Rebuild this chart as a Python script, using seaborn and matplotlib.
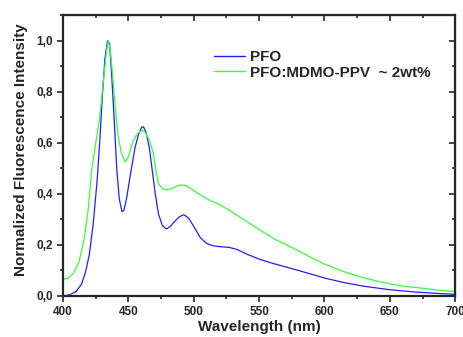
import pandas as pd
import matplotlib
matplotlib.use("Agg")
import matplotlib.pyplot as plt
import seaborn as sns
from matplotlib.ticker import MultipleLocator, FuncFormatter

# PFO emission
pfo_wl = [400, 405, 410, 414, 417, 420, 423, 426, 428, 430, 432, 434, 435.5, 437, 439, 441, 443, 445,
          446.5, 448.5, 451, 453, 455, 457.5, 460, 461.5, 463.5, 466, 468, 470.5, 473, 476, 479, 482,
          485, 489, 492.5, 496, 500, 505, 510, 515, 520, 527, 533, 540, 550, 560, 575, 590, 600, 615,
          630, 650, 670, 685, 700]
pfo_int = [0.0, 0.004, 0.018, 0.045, 0.09, 0.16, 0.28, 0.45, 0.6, 0.78, 0.93, 1.0, 0.99, 0.88, 0.7,
           0.5, 0.38, 0.33, 0.335, 0.38, 0.46, 0.52, 0.58, 0.63, 0.66, 0.663, 0.64, 0.58, 0.5, 0.4,
           0.32, 0.275, 0.262, 0.272, 0.29, 0.31, 0.318, 0.305, 0.272, 0.228, 0.205, 0.196, 0.193,
           0.19, 0.182, 0.165, 0.144, 0.128, 0.107, 0.085, 0.07, 0.052, 0.038, 0.024, 0.015, 0.01, 0.006]

# PFO:MDMO-PPV blend
blend_wl = [400, 404, 408, 412, 416, 419, 422, 425, 428, 431, 433, 434.5, 436, 438, 440, 442, 444.5,
            447.5, 450, 453, 456, 459, 461, 463, 466, 469, 471, 473, 476, 479, 483, 487, 491, 494, 498,
            505, 512, 518, 525, 535, 550, 562, 575, 588, 600, 612, 625, 637, 650, 662, 675, 688, 700]
blend_int = [0.065, 0.07, 0.09, 0.13, 0.22, 0.33, 0.5, 0.6, 0.7, 0.85, 0.95, 1.0, 0.97, 0.86, 0.73,
             0.63, 0.56, 0.525, 0.545, 0.6, 0.63, 0.645, 0.65, 0.64, 0.61, 0.56, 0.49, 0.44, 0.42,
             0.415, 0.42, 0.43, 0.435, 0.432, 0.42, 0.395, 0.375, 0.362, 0.342, 0.31, 0.26, 0.222,
             0.19, 0.155, 0.125, 0.1, 0.078, 0.062, 0.047, 0.037, 0.03, 0.022, 0.017]

labels = ["PFO", "PFO:MDMO-PPV  ~ 2wt%"]
colors = ["#1f1fff", "#33ff33"]

df = pd.concat([
    pd.DataFrame({"wl": pfo_wl, "I": pfo_int, "sample": labels[0]}),
    pd.DataFrame({"wl": blend_wl, "I": blend_int, "sample": labels[1]}),
])

sns.set_style("ticks")
plt.rcParams["font.family"] = ["Liberation Sans", "DejaVu Sans"]
plt.rcParams["font.weight"] = "bold"

fig = plt.figure(figsize=(4.64, 3.37), dpi=100)
ax = fig.add_axes([0.136, 0.122, 0.845, 0.833])

sns.lineplot(data=df, x="wl", y="I", hue="sample", palette=colors, linewidth=0.9,
             ax=ax, sort=False, estimator=None)

ax.set_xlim(400, 700)
ax.set_ylim(0, 1.1)
ax.xaxis.set_major_locator(MultipleLocator(50))
ax.xaxis.set_minor_locator(MultipleLocator(25))
ax.yaxis.set_major_locator(MultipleLocator(0.2))
ax.yaxis.set_minor_locator(MultipleLocator(0.1))
ax.yaxis.set_major_formatter(FuncFormatter(lambda v, p: f"{v:.1f}".replace(".", ",")))

for s in ax.spines.values():
    s.set_linewidth(1.6)
ax.tick_params(which="both", direction="out", width=1.2, labelsize=8.5, top=False, right=False)
ax.tick_params(which="major", length=4)
ax.tick_params(which="minor", length=2.5)

# inward ticks on top and right, as Origin draws them
tx = ax.secondary_xaxis("top")
tx.xaxis.set_major_locator(MultipleLocator(50))
tx.xaxis.set_minor_locator(MultipleLocator(25))
tx.tick_params(which="both", direction="in", width=1.2, labeltop=False)
tx.tick_params(which="major", length=4)
tx.tick_params(which="minor", length=2.5)
ty = ax.secondary_yaxis("right")
ty.yaxis.set_major_locator(MultipleLocator(0.2))
ty.yaxis.set_minor_locator(MultipleLocator(0.1))
ty.tick_params(which="both", direction="in", width=1.2, labelright=False)
ty.tick_params(which="major", length=4)
ty.tick_params(which="minor", length=2.5)

ax.set_xlabel("Wavelength (nm)", fontsize=11, fontweight="bold", labelpad=1.5)
ax.set_ylabel("Normalized Fluorescence Intensity", fontsize=11, fontweight="bold")
ax.yaxis.set_label_coords(-0.09, 0.52)

leg = ax.legend(loc="upper left", bbox_to_anchor=(0.35, 0.925), frameon=False, fontsize=11,
                handlelength=2.0, handletextpad=0.35, labelspacing=0.12)
for line in leg.get_lines():
    line.set_linewidth(1.0)

fig.savefig("out.png", dpi=100)
